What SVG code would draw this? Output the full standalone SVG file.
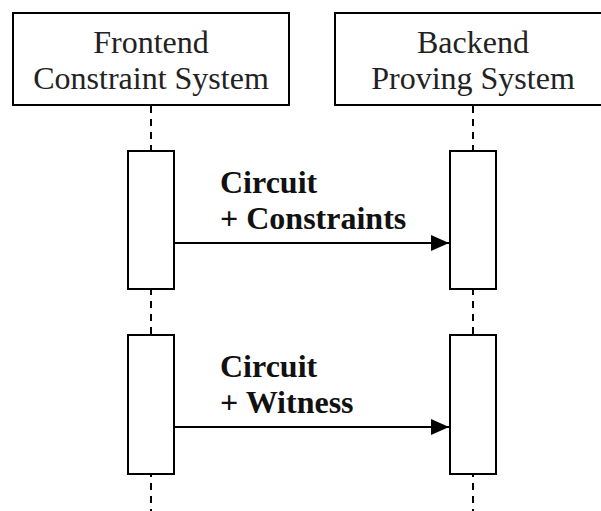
<svg xmlns="http://www.w3.org/2000/svg" width="601" height="511" viewBox="0 0 601 511">
  <style>
    .actor { fill: #ffffff; stroke: #000000; stroke-width: 2; }
    .actor-label { font-family: "Liberation Serif", "Times New Roman", serif; font-size: 32px; fill: #222222; text-anchor: middle; }
    .lifeline { stroke: #000000; stroke-width: 2; stroke-dasharray: 7 6; fill: none; }
    .activation { fill: #ffffff; stroke: #000000; stroke-width: 2; }
    .message { stroke: #000000; stroke-width: 2; fill: none; marker-end: url(#arrowhead); }
    .message-label { font-family: "Liberation Serif", "Times New Roman", serif; font-size: 32px; font-weight: bold; fill: #111111; }
  </style>
  <defs>
    <marker id="arrowhead" markerUnits="userSpaceOnUse" markerWidth="19" markerHeight="16" refX="18" refY="8" orient="auto">
      <path d="M0,0 L18,8 L0,16 Z" fill="#000000"/>
    </marker>
  </defs>
  <rect width="601" height="511" fill="#ffffff"/>

  <!-- lifelines -->
  <g id="lifelines">
    <line class="lifeline" x1="151" y1="106" x2="151" y2="511"/>
    <line class="lifeline" x1="473" y1="106" x2="473" y2="511"/>
  </g>

  <g id="frontend">
    <rect class="actor" x="13" y="13" width="276" height="92"/>
    <text class="actor-label" x="151" y="53">Frontend</text>
    <text class="actor-label" x="151" y="89">Constraint System</text>
  </g>

  <g id="backend">
    <rect class="actor" x="335" y="13" width="276" height="92"/>
    <text class="actor-label" x="473" y="53">Backend</text>
    <text class="actor-label" x="473" y="89">Proving System</text>
  </g>

  <g id="frontend-activation-1">
    <rect class="activation" x="128" y="151" width="46" height="138"/>
  </g>
  <g id="backend-activation-1">
    <rect class="activation" x="450" y="151" width="46" height="138"/>
  </g>
  <g id="frontend-activation-2">
    <rect class="activation" x="128" y="335" width="46" height="139"/>
  </g>
  <g id="backend-activation-2">
    <rect class="activation" x="450" y="335" width="46" height="139"/>
  </g>

  <!-- messages -->
  <g id="connectors">
    <line class="message" x1="175" y1="243" x2="449" y2="243"/>
    <line class="message" x1="175" y1="427" x2="449" y2="427"/>
  </g>

  <g id="message-labels">
    <text class="message-label" x="220" y="193">Circuit</text>
    <text class="message-label" x="220" y="229">+ Constraints</text>
    <text class="message-label" x="220" y="377">Circuit</text>
    <text class="message-label" x="220" y="413">+ Witness</text>
  </g>
</svg>
